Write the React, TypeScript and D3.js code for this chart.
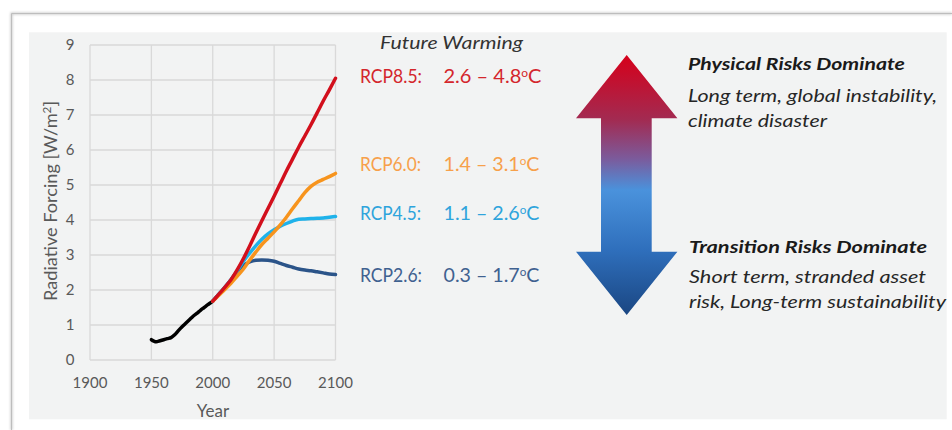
import React from "react";
import * as d3 from "d3";

const histYears = [1950, 1952, 1954, 1957, 1960, 1963, 1966, 1969, 1972, 1975, 1978, 1981, 1984, 1987, 1990, 1993, 1996, 1998, 2000];
const histValues = [0.58, 0.54, 0.52, 0.55, 0.58, 0.61, 0.64, 0.72, 0.84, 0.95, 1.05, 1.15, 1.25, 1.33, 1.42, 1.5, 1.58, 1.63, 1.68];

const rcpYears = [2000, 2005, 2010, 2015, 2020, 2025, 2030, 2035, 2040, 2045, 2050, 2055, 2060, 2065, 2070, 2075, 2080, 2085, 2090, 2095, 2100];
const rcp85 = [1.68, 1.88, 2.08, 2.3, 2.58, 2.9, 3.25, 3.62, 3.98, 4.33, 4.68, 5.04, 5.4, 5.74, 6.08, 6.4, 6.72, 7.06, 7.4, 7.72, 8.05];
const rcp60 = [1.68, 1.85, 2.02, 2.2, 2.4, 2.6, 2.85, 3.08, 3.3, 3.48, 3.66, 3.86, 4.08, 4.32, 4.55, 4.78, 4.96, 5.08, 5.16, 5.24, 5.33];
const rcp45 = [1.68, 1.88, 2.08, 2.3, 2.55, 2.82, 3.05, 3.26, 3.45, 3.6, 3.72, 3.82, 3.9, 3.97, 4.02, 4.03, 4.04, 4.05, 4.06, 4.08, 4.1];
const rcp26 = [1.68, 1.88, 2.08, 2.3, 2.52, 2.7, 2.8, 2.85, 2.86, 2.85, 2.82, 2.76, 2.7, 2.65, 2.6, 2.57, 2.55, 2.52, 2.49, 2.46, 2.44];

const xTicks = [1900, 1950, 2000, 2050, 2100];
const yTicks = [0, 1, 2, 3, 4, 5, 6, 7, 8, 9];

const seriesNames = ["RCP2.6", "RCP4.5", "RCP6.0", "RCP8.5"];
const seriesValues = [rcp26, rcp45, rcp60, rcp85];
const seriesColors = ["#2b5489", "#1fb2ea", "#f7941d", "#d20f1c"];

const labelNames = ["RCP8.5:", "RCP6.0:", "RCP4.5:", "RCP2.6:"];
const labelRanges = ["2.6 – 4.8", "1.4 – 3.1", "1.1 – 2.6", "0.3 – 1.7"];
const labelColors = ["#d4262c", "#f7a04a", "#2ea4dc", "#3f6190"];

const physicalLines = ["Long term, global instability,", "climate disaster"];
const transitionLines = ["Short term, stranded asset", "risk, Long-term sustainability"];

const FONT = "Lato, 'Open Sans', sans-serif";

export default function App() {
  const x = d3.scaleLinear().domain([1900, 2100]).range([90, 335.5]);
  const y = d3.scaleLinear().domain([0, 9]).range([360, 45]);
  const line = d3
    .line<[number, number]>()
    .x((d) => x(d[0]))
    .y((d) => y(d[1]))
    .curve(d3.curveMonotoneX);

  const histPath = line(histYears.map((yr, i) => [yr, histValues[i]]) as [number, number][]);

  const labelY = [82.7, 170.7, 220, 281.7];
  const nameLen = [62, 61, 61, 62];
  const rangeLen = [98, 96, 96, 96];

  const physLen = [249, 139];
  const transLen = [237, 257];

  const ax = 626.7;
  const arrowPath = [
    `M${ax},55`,
    `L${ax + 50.7},118.3`,
    `L${ax + 25},118.3`,
    `L${ax + 25},251.7`,
    `L${ax + 50.7},251.7`,
    `L${ax},315`,
    `L${ax - 50.7},251.7`,
    `L${ax - 25.7},251.7`,
    `L${ax - 25.7},118.3`,
    `L${ax - 50.7},118.3`,
    "Z",
  ].join(" ");

  return (
    <svg width={952} height={430} style={{ display: "block", position: "absolute", left: 0, top: 0 }}>
      <defs>
        <linearGradient id="arrowGrad" gradientUnits="userSpaceOnUse" x1="0" y1="55" x2="0" y2="315">
          <stop offset="0" stopColor="#d6001a" />
          <stop offset="0.25" stopColor="#a22b52" />
          <stop offset="0.4" stopColor="#7b5b9c" />
          <stop offset="0.52" stopColor="#4a92dc" />
          <stop offset="0.75" stopColor="#2f6fbc" />
          <stop offset="1" stopColor="#1a4682" />
        </linearGradient>
        <filter id="shadow" x="-5%" y="-5%" width="110%" height="110%">
          <feGaussianBlur stdDeviation="1" />
        </filter>
      </defs>
      <rect x={0} y={0} width={952} height={430} fill="#ffffff" />
      <path d="M11.5,430 L11.5,13.5 L952,13.5" fill="none" stroke="#c8c8c8" strokeWidth={2} filter="url(#shadow)" />
      <path d="M11.5,430 L11.5,13.5 L952,13.5" fill="none" stroke="#bdbdbd" strokeWidth={1} />
      <rect x={29} y={32.3} width={917.7} height={387} fill="#f2f3f3" />

      {yTicks.map((t) => (
        <line key={"gy" + t} x1={x(1900)} x2={x(2100)} y1={y(t)} y2={y(t)} stroke="#d9d9d9" strokeWidth={1.3} />
      ))}
      {xTicks.map((t) => (
        <line key={"gx" + t} x1={x(t)} x2={x(t)} y1={y(0)} y2={y(9)} stroke="#d9d9d9" strokeWidth={1.3} />
      ))}

      {yTicks.map((t) => (
        <text key={"ty" + t} x={74.5} y={y(t) + 5} textAnchor="end" fontFamily={FONT} fontSize={15} fill="#595959">
          {t}
        </text>
      ))}
      {xTicks.map((t) => (
        <text key={"tx" + t} x={x(t)} y={388} textAnchor="middle" fontFamily={FONT} fontSize={15} fill="#595959">
          {t}
        </text>
      ))}
      <text x={213} y={417} textAnchor="middle" fontFamily={FONT} fontSize={17} fill="#595959">
        Year
      </text>
      <text
        transform="translate(57,201) rotate(-90)"
        textAnchor="middle"
        fontFamily={FONT}
        fontSize={17}
        fill="#595959"
        textLength={200}
        lengthAdjust="spacingAndGlyphs"
      >
        Radiative Forcing [W/m<tspan dy={-6} fontSize={11}>2</tspan><tspan dy={6}>]</tspan>
      </text>

      <path d={histPath || ""} fill="none" stroke="#000000" strokeWidth={3.5} strokeLinejoin="round" strokeLinecap="round" />
      {seriesValues.map((vals, i) => (
        <path
          key={seriesNames[i]}
          d={line(rcpYears.map((yr, j) => [yr, vals[j]]) as [number, number][]) || ""}
          fill="none"
          stroke={seriesColors[i]}
          strokeWidth={3.5}
          strokeLinejoin="round"
          strokeLinecap="round"
        />
      ))}

      <text x={380} y={49} fontFamily={FONT} fontStyle="italic" fontSize={18} fill="#333333" textLength={143} lengthAdjust="spacingAndGlyphs">
        Future Warming
      </text>
      {labelNames.map((n, i) => (
        <g key={n}>
          <text x={360} y={labelY[i]} fontFamily={FONT} fontSize={18.5} fill={labelColors[i]} textLength={nameLen[i]} lengthAdjust="spacingAndGlyphs">
            {n}
          </text>
          <text x={443.5} y={labelY[i]} fontFamily={FONT} fontSize={18.5} fill={labelColors[i]} textLength={rangeLen[i]} lengthAdjust="spacingAndGlyphs">
            {labelRanges[i]}
            <tspan dy={-6} fontSize={11}>o</tspan>
            <tspan dy={6}>C</tspan>
          </text>
        </g>
      ))}

      <path d={arrowPath} fill="url(#arrowGrad)" />

      <text x={688} y={70} fontFamily={FONT} fontStyle="italic" fontWeight="bold" fontSize={17.5} fill="#1a1a1a" textLength={217} lengthAdjust="spacingAndGlyphs">
        Physical Risks Dominate
      </text>
      {physicalLines.map((t, i) => (
        <text key={t} x={688} y={101.7 + i * 25.5} fontFamily={FONT} fontStyle="italic" fontSize={17.5} fill="#262626" textLength={physLen[i]} lengthAdjust="spacingAndGlyphs">
          {t}
        </text>
      ))}
      <text x={689} y={253.3} fontFamily={FONT} fontStyle="italic" fontWeight="bold" fontSize={17.5} fill="#1a1a1a" textLength={238} lengthAdjust="spacingAndGlyphs">
        Transition Risks Dominate
      </text>
      {transitionLines.map((t, i) => (
        <text key={t} x={689} y={282.7 + i * 25.5} fontFamily={FONT} fontStyle="italic" fontSize={17.5} fill="#262626" textLength={transLen[i]} lengthAdjust="spacingAndGlyphs">
          {t}
        </text>
      ))}
    </svg>
  );
}
